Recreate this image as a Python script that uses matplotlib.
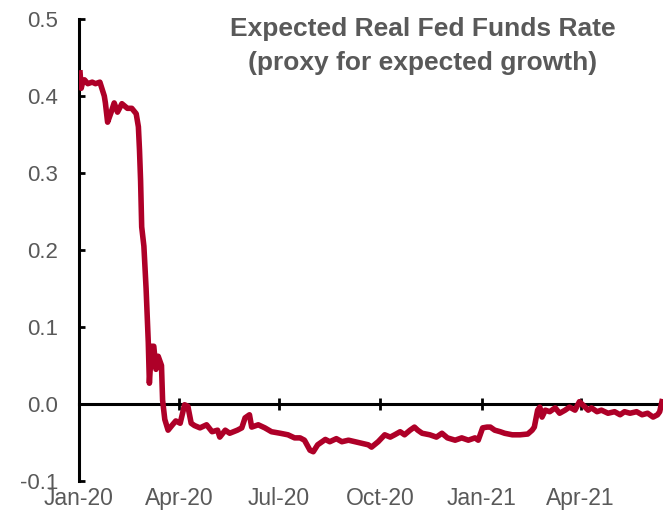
import numpy as np
import pandas as pd
import matplotlib
matplotlib.use("Agg")
import matplotlib.pyplot as plt
import matplotlib.dates as mdates
from matplotlib.ticker import FormatStrFormatter

# expected real fed funds rate, read at irregular dates
dates = [
    "2020-01-02", "2020-01-03", "2020-01-04", "2020-01-06", "2020-01-09", "2020-01-13",
    "2020-01-16", "2020-01-20", "2020-01-24", "2020-01-25", "2020-01-27", "2020-01-30",
    "2020-02-02", "2020-02-05", "2020-02-09", "2020-02-14", "2020-02-18", "2020-02-22",
    "2020-02-24", "2020-02-25", "2020-02-26", "2020-02-27", "2020-02-29", "2020-03-02",
    "2020-03-04", "2020-03-05", "2020-03-07", "2020-03-09", "2020-03-11", "2020-03-13",
    "2020-03-16", "2020-03-17", "2020-03-19", "2020-03-22", "2020-03-26", "2020-03-29",
    "2020-04-02", "2020-04-06", "2020-04-09", "2020-04-12", "2020-04-15", "2020-04-20",
    "2020-04-26", "2020-05-01", "2020-05-06", "2020-05-08", "2020-05-13", "2020-05-17",
    "2020-05-24", "2020-05-28", "2020-05-31", "2020-06-04", "2020-06-06", "2020-06-12",
    "2020-06-18", "2020-06-24", "2020-07-02", "2020-07-09", "2020-07-15", "2020-07-20",
    "2020-07-24", "2020-07-29", "2020-08-01", "2020-08-05", "2020-08-12", "2020-08-16",
    "2020-08-22", "2020-08-27", "2020-09-02", "2020-09-08", "2020-09-14", "2020-09-20",
    "2020-09-23", "2020-09-29", "2020-10-05", "2020-10-10", "2020-10-14", "2020-10-19",
    "2020-10-23", "2020-10-28", "2020-11-01", "2020-11-04", "2020-11-08", "2020-11-15",
    "2020-11-21", "2020-11-26", "2020-12-01", "2020-12-08", "2020-12-14", "2020-12-20",
    "2020-12-26", "2020-12-29", "2021-01-02", "2021-01-06", "2021-01-09", "2021-01-13",
    "2021-01-18", "2021-01-22", "2021-01-29", "2021-02-05", "2021-02-12", "2021-02-16",
    "2021-02-18", "2021-02-21", "2021-02-23", "2021-02-25", "2021-02-28", "2021-03-04",
    "2021-03-09", "2021-03-13", "2021-03-18", "2021-03-22", "2021-03-27", "2021-03-31",
    "2021-04-03", "2021-04-08", "2021-04-11", "2021-04-16", "2021-04-20", "2021-04-26",
    "2021-05-02", "2021-05-07", "2021-05-11", "2021-05-16", "2021-05-22", "2021-05-27",
    "2021-06-01", "2021-06-06", "2021-06-10", "2021-06-12", "2021-06-14",
]
rate = [
    0.430, 0.410, 0.416, 0.421, 0.416, 0.418,
    0.416, 0.418, 0.400, 0.391, 0.366, 0.378,
    0.391, 0.379, 0.390, 0.384, 0.384, 0.377,
    0.360, 0.330, 0.290, 0.230, 0.205, 0.150,
    0.080, 0.027, 0.075, 0.075, 0.045, 0.062,
    0.050, 0.005, -0.020, -0.034, -0.027, -0.022,
    -0.025, -0.001, -0.003, -0.025, -0.028, -0.031,
    -0.027, -0.036, -0.034, -0.043, -0.034, -0.038,
    -0.034, -0.031, -0.018, -0.014, -0.030, -0.027,
    -0.031, -0.036, -0.038, -0.040, -0.044, -0.044,
    -0.047, -0.060, -0.062, -0.053, -0.046, -0.049,
    -0.045, -0.049, -0.047, -0.049, -0.051, -0.053,
    -0.056, -0.049, -0.040, -0.043, -0.040, -0.036,
    -0.040, -0.034, -0.030, -0.034, -0.038, -0.040,
    -0.043, -0.038, -0.044, -0.047, -0.044, -0.047,
    -0.044, -0.047, -0.031, -0.030, -0.030, -0.034,
    -0.036, -0.038, -0.040, -0.040, -0.039, -0.034,
    -0.030, -0.008, -0.004, -0.017, -0.008, -0.010,
    -0.005, -0.012, -0.008, -0.004, -0.008, 0.003,
    -0.001, -0.008, -0.005, -0.010, -0.008, -0.012,
    -0.010, -0.014, -0.010, -0.012, -0.010, -0.014,
    -0.012, -0.017, -0.014, -0.010, 0.003,
]
tick_dates = ["2020-01-01", "2020-04-01", "2020-07-01", "2020-10-01", "2021-01-01", "2021-04-01"]
y_ticks = [-0.1, 0.0, 0.1, 0.2, 0.3, 0.4, 0.5]

plt.rcParams["font.family"] = ["Liberation Sans", "DejaVu Sans"]
grey = "#595959"

fig = plt.figure(figsize=(6.63, 5.22), dpi=100)
ax = fig.add_axes([79 / 663, 1 - 481 / 522, 1 - 79 / 663, (481 - 19) / 522])

ax.plot(pd.to_datetime(dates), rate, color="#AE0028", lw=4, solid_joinstyle="round", zorder=3)

ax.set_xlim(pd.Timestamp("2020-01-01"), pd.Timestamp("2021-06-15"))
ax.set_ylim(-0.1, 0.5)

for s in ["top", "right"]:
    ax.spines[s].set_visible(False)
ax.spines["bottom"].set_position(("data", 0))
ax.spines["bottom"].set_linewidth(2.2)
ax.spines["left"].set_linewidth(2.2)
ax.spines["bottom"].set_zorder(2)

ax.set_yticks(y_ticks)
ax.yaxis.set_major_formatter(FormatStrFormatter("%.1f"))
ax.tick_params(axis="y", direction="in", length=4, width=2, labelsize=16,
               labelcolor=grey, pad=15)

ax.set_xticks(pd.to_datetime(tick_dates))
ax.xaxis.set_major_formatter(mdates.DateFormatter("%b-%y"))
ax.tick_params(axis="x", direction="inout", length=8, width=2, labelsize=16.5,
               labelcolor=grey, pad=56)

fig.text(0.638, 1 - 17 / 522, "Expected Real Fed Funds Rate\n(proxy for expected growth)",
         ha="center", va="top", fontsize=19, fontweight="bold", color=grey, linespacing=1.55)

fig.savefig("out.png", dpi=100)
